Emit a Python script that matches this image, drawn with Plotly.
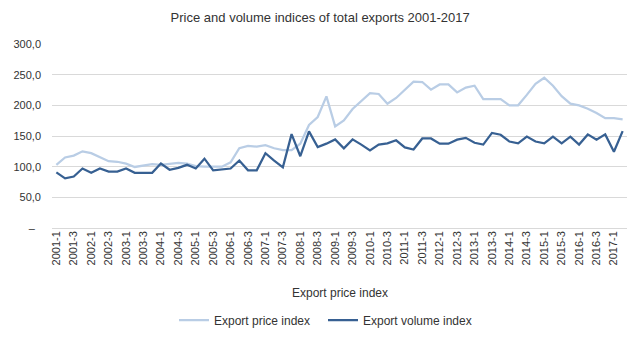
import plotly.graph_objects as go

# Quarterly categories 2001-1 .. 2017-2
years = list(range(2001, 2018))
quarters = [f"{y}-{q}" for y in years for q in (1, 2, 3, 4)][:66]

price_index = [
    103, 115, 118, 125, 122, 115, 109, 108, 105, 99.5,
    102, 104, 103, 104, 106, 105, 101, 100, 100, 100,
    107, 130, 134, 132.5, 135, 130, 127, 127, 137.5, 168,
    181, 214.6, 165.7, 175.5, 194, 207.6, 220, 218.5, 202.7, 212,
    225.5, 238.5, 238, 225.5, 234, 234, 221, 229, 232, 210,
    210, 210, 200, 200, 217, 235, 245, 232, 215, 202.7,
    200, 194.5, 187.5, 179, 179, 177,
]

volume_index = [
    90.7, 81, 84, 97, 90, 97, 92, 92, 97, 90,
    90, 90, 105, 95, 98, 103, 97, 113, 94, 95,
    97, 110, 94, 94, 122, 110, 99, 153, 117, 157.5,
    132, 137.5, 144.5, 130, 144.5, 136, 126.6, 136, 138, 143,
    131.5, 128, 146, 146, 137.5, 137.5, 144, 147, 139, 136,
    155, 152, 141, 138, 149, 141, 138, 149, 138, 149,
    136, 152.6, 144, 152.6, 124.4, 158,
]

y_ticks = [0, 50, 100, 150, 200, 250, 300]
y_tick_text = ["\u2013\u00a0\u00a0", "50,0", "100,0", "150,0", "200,0", "250,0", "300,0"]

x_tick_vals = quarters[::2]

FONT = "Liberation Sans"
TEXT = "#333333"

fig = go.Figure()
fig.add_trace(go.Scatter(
    x=quarters, y=price_index, mode="lines", name="Export price index",
    line=dict(color="#B9CDE5", width=2.25),
))
fig.add_trace(go.Scatter(
    x=quarters, y=volume_index, mode="lines", name="Export volume index",
    line=dict(color="#376092", width=2.25),
))

fig.update_layout(
    width=643, height=340,
    margin=dict(l=52, r=16, t=44, b=112, autoexpand=False),
    paper_bgcolor="white", plot_bgcolor="white",
    font=dict(family=FONT, size=11, color=TEXT),
    title=dict(
        text="Price and volume indices of total exports 2001-2017",
        font=dict(family=FONT, size=13, color=TEXT),
        x=0.498, xref="container", xanchor="center",
        y=1 - 17 / 340, yref="container", yanchor="middle",
    ),
    showlegend=True,
    legend=dict(
        orientation="h", xref="container", x=174 / 643, xanchor="left",
        yref="container", y=1 - 320 / 340, yanchor="middle",
        font=dict(family=FONT, size=12, color=TEXT),
        itemwidth=30, tracegroupgap=0, entrywidth=104,
    ),
    xaxis=dict(
        type="category", categoryorder="array", categoryarray=quarters,
        range=[-0.5, len(quarters) - 0.5],
        tickmode="array", tickvals=x_tick_vals, ticktext=x_tick_vals,
        tickangle=-90, tickfont=dict(family=FONT, size=11, color=TEXT),
        showgrid=False, showline=False, zeroline=False, ticks="",
        automargin=False,
    ),
    yaxis=dict(
        range=[0, 300], tickmode="array", tickvals=y_ticks, ticktext=y_tick_text,
        tickfont=dict(family=FONT, size=11, color=TEXT),
        showgrid=True, gridcolor="#D9D9D9", gridwidth=1,
        zeroline=True, zerolinecolor="#D9D9D9", zerolinewidth=1,
        showline=False, ticks="", ticklabelstandoff=10, automargin=False,
    ),
    annotations=[dict(
        text="Export price index", xref="paper", yref="paper",
        x=0.5, y=-0.352, xanchor="center", yanchor="middle", showarrow=False,
        font=dict(family=FONT, size=12, color=TEXT),
    )],
)

fig.write_html("out.html")
